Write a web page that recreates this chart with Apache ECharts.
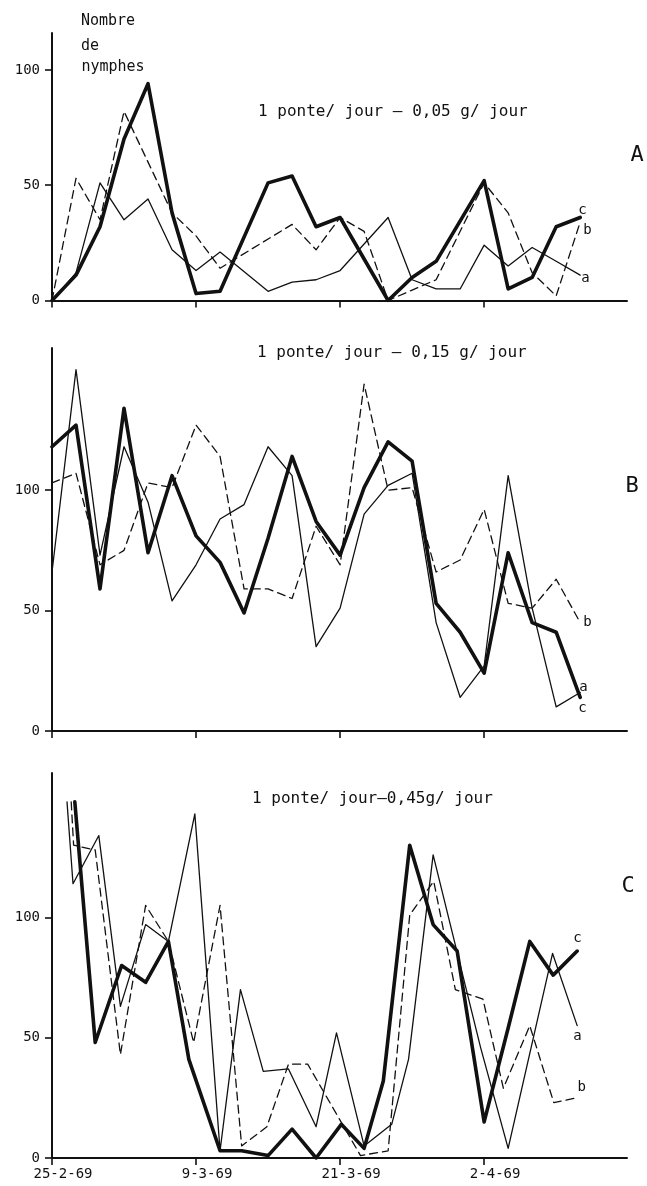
<!DOCTYPE html>
<html>
<head>
<meta charset="utf-8">
<script src="https://cdn.jsdelivr.net/npm/echarts@6/dist/echarts.min.js"></script>
<style>
  html, body { margin: 0; background: #fff; }
  #chart { width: 647px; height: 1186px; }
</style>
</head>
<body>
<div id="chart"></div>
<script>
// x = days counted from 25-2-69
const tickDays = [0, 12, 24, 36]
const tickLabels = ['25-2-69', '9-3-69', '21-3-69', '2-4-69']
const yTicks = [0, 50, 100]

// A : 1 ponte/jour - 0,05 g/jour   ([day, nombre de nymphes])
const A_a = [[0, 0], [2, 12], [4, 51], [6, 35], [8, 44], [10, 22], [12, 13], [14, 21], [18, 4], [20, 8], [22, 9], [24, 13],
  [28, 36], [30, 9], [32, 5], [34, 5], [36, 24], [38, 15], [40, 23], [42, 17], [44, 11]]
const A_b = [[0, 0], [2, 53], [4, 35], [6, 82], [10, 38], [12, 28], [14, 14], [20, 33], [22, 22], [24, 36], [26, 30],
  [28, 0], [32, 9], [36, 51], [38, 38], [40, 12], [42, 2], [44, 34]]
const A_c = [[0, 0], [2, 11], [4, 32], [6, 70], [8, 94], [10, 38], [12, 3], [14, 4], [18, 51], [20, 54], [22, 32], [24, 36],
  [28, 0], [30, 10], [32, 17], [36, 52], [38, 5], [40, 10], [42, 32], [44, 36]]

// B : 1 ponte/jour - 0,15 g/jour   (one count every 2 days)
const B_days = [0, 2, 4, 6, 8, 10, 12, 14, 16, 18, 20, 22, 24, 26, 28, 30, 32, 34, 36, 38, 40, 42, 44]
const B_a = [66, 150, 73, 118, 95, 54, 69, 88, 94, 118, 106, 35, 51, 90, 102, 107, 45, 14, 27, 106, 51, 10, 16]
const B_b = [103, 107, 69, 75, 103, 101, 127, 114, 59, 59, 55, 85, 69, 144, 100, 101, 66, 71, 92, 53, 51, 63, 45]
const B_c = [118, 127, 59, 134, 74, 106, 81, 70, 49, 80, 114, 87, 73, 101, 120, 112, 53, 41, 24, 74, 45, 41, 14]

// C : 1 ponte/jour - 0,45 g/jour
const C_a = [[1.25, 148], [1.75, 114], [3.9, 134], [5.7, 63], [7.8, 97], [9.7, 90], [11.9, 143], [14, 3], [15.7, 70],
  [17.6, 36], [19.7, 37], [22, 13], [23.7, 52], [26, 5], [28.3, 14], [29.7, 41], [31.75, 126], [35.7, 46], [38, 4],
  [41.7, 85], [43.75, 55]]
const C_b = [[1.6, 148], [1.8, 130], [3.6, 128], [5.7, 43], [7.8, 105], [9.7, 90], [11.8, 48], [14, 105], [15.8, 5],
  [17.9, 13], [19.7, 39], [21.3, 39], [25.7, 1], [28, 3], [29.8, 101], [31.8, 115], [33.6, 70], [35.9, 66], [37.6, 29],
  [39.8, 55], [41.8, 23], [43.7, 25]]
const C_c = [[1.9, 148], [3.6, 48], [5.8, 80], [7.8, 73], [9.7, 90], [11.4, 41], [14, 3], [15.8, 3], [18, 1], [20, 12],
  [22, 0], [24.1, 14], [26, 4], [27.6, 32], [29.8, 130], [31.75, 97], [33.75, 86], [36, 15], [38, 54], [39.8, 90],
  [41.75, 76], [43.75, 86]]

const ink = '#111'
const mono = 'DejaVu Sans Mono'

const pairs = (days, vals) => days.map((d, i) => [d, vals[i]])

const lineStyles = {
  a: { width: 1.3, type: 'solid' },
  b: { width: 1.3, type: [8, 5] },
  c: { width: 3.6, type: 'solid' }
}

function curve(idx, name, data, offset) {
  return {
    type: 'line',
    name: name,
    xAxisIndex: idx,
    yAxisIndex: idx,
    data: data,
    showSymbol: false,
    symbol: 'none',
    z: name === 'c' ? 4 : 3,
    lineStyle: Object.assign({ color: ink, cap: 'round', join: 'round' }, lineStyles[name]),
    endLabel: {
      show: true,
      formatter: name,
      distance: 4,
      offset: offset,
      color: ink,
      fontFamily: mono,
      fontSize: 14
    }
  }
}

function xAxis(idx) {
  return {
    gridIndex: idx,
    type: 'value',
    min: 0,
    max: 47.9,
    axisLine: { lineStyle: { color: ink, width: 2 } },
    axisTick: { customValues: tickDays, length: 7, lineStyle: { color: ink, width: 1.6 } },
    axisLabel: {
      show: idx === 2,
      customValues: tickDays,
      formatter: v => tickLabels[tickDays.indexOf(v)],
      margin: 9,
      padding: [0, 0, 0, 22],
      color: ink,
      fontFamily: mono,
      fontSize: 14
    },
    splitLine: { show: false }
  }
}

function yAxis(idx, max) {
  return {
    gridIndex: idx,
    type: 'value',
    min: 0,
    max: max,
    axisLine: { show: true, lineStyle: { color: ink, width: 2 } },
    axisTick: { show: true, customValues: yTicks, length: 7, lineStyle: { color: ink, width: 1.6 } },
    axisLabel: { customValues: yTicks, margin: 12, color: ink, fontFamily: mono, fontSize: 14 },
    splitLine: { show: false }
  }
}

function note(text, x, y, size, align) {
  return {
    type: 'text',
    x: x,
    y: y,
    style: {
      text: text,
      fill: ink,
      font: size + 'px "' + mono + '"',
      align: align || 'left',
      textAlign: align || 'left',
      verticalAlign: 'middle',
      textVerticalAlign: 'middle'
    }
  }
}

const chart = echarts.init(document.getElementById('chart'))
chart.setOption({
  backgroundColor: '#fff',
  animation: false,
  grid: [
    { left: 52, right: 20, top: 33, height: 267.5 },
    { left: 52, right: 20, top: 348, height: 383 },
    { left: 52, right: 20, top: 773, height: 385 }
  ],
  xAxis: [xAxis(0), xAxis(1), xAxis(2)],
  yAxis: [yAxis(0, 116), yAxis(1, 159), yAxis(2, 160)],
  graphic: [
    note('Nombre', 108, 21, 15, 'center'),
    note('de', 90, 46, 15, 'center'),
    note('nymphes', 113, 67, 15, 'center'),
    note('1 ponte/ jour \u2013 0,05 g/ jour', 258, 112, 16),
    note('1 ponte/ jour \u2013 0,15 g/ jour', 257, 353, 16),
    note('1 ponte/ jour\u20130,45g/ jour', 252, 799, 16),
    note('A', 637, 155, 22, 'center'),
    note('B', 632, 486, 22, 'center'),
    note('C', 628, 886, 22, 'center')
  ],
  series: [
    curve(0, 'a', A_a, [-3, 3]),
    curve(0, 'b', A_b, [-1, 8]),
    curve(0, 'c', A_c, [-6, -7]),
    curve(1, 'a', pairs(B_days, B_a), [-5, -5]),
    curve(1, 'b', pairs(B_days, B_b), [-1, 0]),
    curve(1, 'c', pairs(B_days, B_c), [-6, 11]),
    curve(2, 'a', C_a, [-8, 11]),
    curve(2, 'b', C_b, [-3, -10]),
    curve(2, 'c', C_c, [-8, -13])
  ]
})
</script>
</body>
</html>
